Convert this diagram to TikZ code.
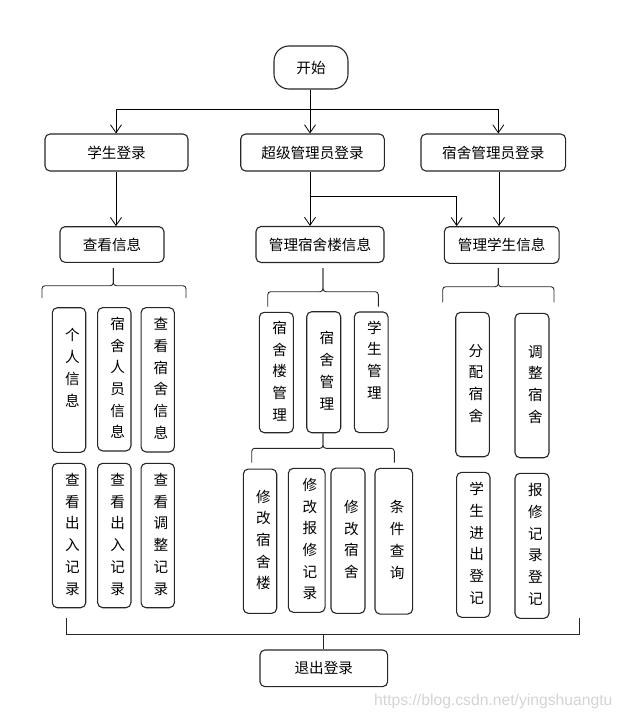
\documentclass[tikz,border=0pt]{standalone}
\usepackage{fontspec}
\setmainfont{Noto Sans CJK SC}
\newfontfamily\wmfont{Liberation Sans}
\usetikzlibrary{arrows.meta}
\newcommand{\vtxt}[1]{\begin{tabular}{@{\hspace{6.6pt}}c@{}}#1\end{tabular}}
\begin{document}
\begin{tikzpicture}[x=1pt,y=-1pt,
  box/.style={draw=black!85, line width=1.1pt, rounded corners=5pt, inner sep=0pt,
              font=\fontsize{14.6}{21.7}\selectfont},
  hbox/.style 2 args={box, minimum width=#1, minimum height=#2},
  conn/.style={line width=0.8pt, draw=black},
  arr/.style={conn, -{Straight Barb[length=8pt,width=11pt]}},
  brk/.style={line width=0.9pt, draw=black!85, rounded corners=3pt},
]
\useasboundingbox (0,0) rectangle (624,720);

% row 1
\node[hbox={74}{43}, rounded corners=15pt] (start) at (311,67.5) {开始};
\node[hbox={143}{37}] (xs) at (116.5,152.5) {学生登录};
\node[hbox={143.6}{37}] (cj) at (312.5,152.5) {超级管理员登录};
\node[hbox={144.7}{37}] (ss) at (493.3,152.5) {宿舍管理员登录};

% row 2
\node[hbox={104}{35.6}] (ck) at (112,244.5) {查看信息};
\node[hbox={128}{36}] (gl) at (320,244.5) {管理宿舍楼信息};
\node[hbox={114.7}{36.6}] (gx) at (501.7,245) {管理学生信息};

% connectors top
\coordinate (split) at (310,109);
\draw[arr] ([xshift=-1pt]start.south) -- ([xshift=-1pt]start.south |- cj.north);
\draw[conn] (split) -| ([xshift=-0.5pt]xs.north);
\draw[arr] (split -| xs.north) ++(-0.5,0) -- ([xshift=-0.5pt]xs.north);
\draw[conn] (split) -| ([xshift=5pt]ss.north);
\draw[arr] (split -| ss.north) ++(5,0) -- ([xshift=5pt]ss.north);
\draw[arr] ([xshift=-0.5pt]xs.south) -- ([xshift=-0.5pt]xs.south |- ck.north);
\coordinate (br) at (310,196.7);
\draw[arr] ([xshift=-2.5pt]cj.south) -- ([xshift=-2.5pt]cj.south |- gl.north);
\draw[arr] (br) -| ([xshift=-45pt]gx.north);
\draw[arr] ([xshift=5.7pt]ss.south) -- ([xshift=5.7pt]ss.south |- gx.north);

% row 3
\node[hbox={33.4}{144.6}] (gr) at (69,380) {\vtxt{个\\人\\信\\息\\{}}};
\node[hbox={33.3}{143.3}] (ssry) at (114.3,379.3) {\vtxt{宿\\舍\\人\\员\\信\\息}};
\node[hbox={33.3}{144.3}] (ckss) at (157.7,379.8) {\vtxt{查\\看\\宿\\舍\\信\\息}};
\node[hbox={34}{120.4}] (sslgl) at (276.3,372.5) {\vtxt{宿\\舍\\楼\\管\\理}};
\node[hbox={34}{121}] (ssgl) at (323.7,372.2) {\vtxt{宿\\舍\\管\\理}};
\node[hbox={33.7}{120.7}] (xsgl) at (371.2,372.3) {\vtxt{学\\生\\管\\理\\{}}};
\node[hbox={33.6}{144.4}] (fp) at (472.5,384.5) {\vtxt{分\\配\\宿\\舍}};
\node[hbox={34}{144.4}] (tz) at (532,385.5) {\vtxt{调\\整\\宿\\舍}};

% row 4
\node[hbox={33.4}{144.4}] (ckcr1) at (69,535.5) {\vtxt{查\\看\\出\\入\\记\\录}};
\node[hbox={33.3}{144.4}] (ckcr2) at (114.3,535.5) {\vtxt{查\\看\\出\\入\\记\\录}};
\node[hbox={33.3}{144.4}] (cktz) at (157.7,535.5) {\vtxt{查\\看\\调\\整\\记\\录}};
\node[hbox={33.4}{144.3}] (xgssl) at (260,541.2) {\vtxt{修\\改\\宿\\舍\\楼}};
\node[hbox={36.7}{144}] (xgbx) at (306.7,540.3) {\vtxt{修\\改\\报\\修\\记\\录}};
\node[hbox={34}{145.3}] (xgss) at (348,540.7) {\vtxt{修\\改\\宿\\舍}};
\node[hbox={37.7}{145.7}] (tjcx) at (393.8,541.2) {\vtxt{条\\件\\查\\询}};
\node[hbox={33.3}{145}] (xsjc) at (473.3,544.8) {\vtxt{学\\生\\进\\出\\登\\记}};
\node[hbox={34}{145}] (bxjl) at (532,545.8) {\vtxt{报\\修\\记\\录\\登\\记}};

% brackets
\coordinate (bL) at (113.3,285.7);
\draw[brk] (42,298) |- (bL) -- (113.3,268);
\draw[brk] (186,298) |- (bL) -- (113.3,268);
\coordinate (bM) at (323,291.7);
\draw[brk] (267.7,306.7) |- (bM) -- (323,268);
\draw[brk] (378.3,306.7) |- (bM) -- (323,268);
\coordinate (bR) at (498.3,286.7);
\draw[brk] (442.7,302.3) |- (bR) -- (498.3,268);
\draw[brk] (554,302.3) |- (bR) -- (498.3,268);
\coordinate (bS) at (323,448.3);
\draw[brk] (251.7,462.7) |- (bS) -- (ssgl.south -| bS);
\draw[brk] (394.3,462.7) |- (bS) -- (ssgl.south -| bS);

% exit
\node[hbox={127.7}{36.7}] (tc) at (323.8,668.3) {退出登录};
\coordinate (bot) at (323,634);
\draw[brk, rounded corners=0pt] (66.7,618) |- (579.3,634) -- (579.3,618);
\draw[brk] (bot) -- (bot |- tc.north);

% watermark
\node[anchor=base west, inner sep=0pt, text={rgb,255:red,212;green,212;blue,212},
      font=\wmfont\fontsize{15.7}{18}\selectfont] (wm) at (374,705) {https://blog.csdn.net/yingshuangtu};
\end{tikzpicture}
\end{document}
